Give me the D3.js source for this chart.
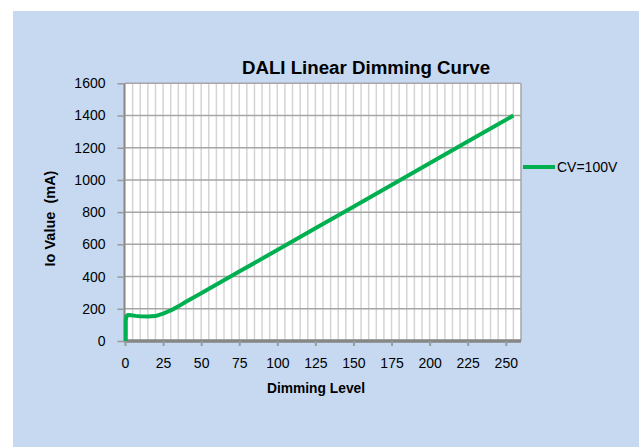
<!doctype html>
<html>
<head>
<meta charset="utf-8">
<script src="https://d3js.org/d3.v7.min.js"></script>
<style>
    body { margin: 0; background: #ffffff; }
    svg { display: block; font-family: "Liberation Sans", Arial, sans-serif; }
</style>
</head>
<body>
<svg id="chart" width="639" height="447"></svg>
<script>

    // dimming level vs output current
    var levels = [0.5, 0.5, 1, 2, 4, 7, 10, 15, 20, 25, 30, 35, 40, 50, 75, 100, 125, 150, 175, 200, 225, 255];
    var ioValues = [0, 130, 155, 162, 160, 156, 154, 152, 155, 170, 190, 215, 244, 296, 431, 565, 700, 834, 969, 1104, 1238, 1400];
    var xTicks = [0, 25, 50, 75, 100, 125, 150, 175, 200, 225, 250];
    var yTicks = [0, 200, 400, 600, 800, 1000, 1200, 1400, 1600];
    var seriesName = "CV=100V";

    var svg = d3.select("#chart");

    // chart area background
    svg.append("rect")
        .attr("x", 13).attr("y", 11)
        .attr("width", 639 - 13).attr("height", 447 - 11)
        .attr("fill", "#c6d9f1");

    var x = d3.scaleLinear().domain([0, 260]).range([125, 521]);
    var y = d3.scaleLinear().domain([0, 1600]).range([341, 83.3]);

    // plot area
    svg.append("rect")
        .attr("x", x(0)).attr("y", y(1600))
        .attr("width", x(260) - x(0)).attr("height", y(0) - y(1600))
        .attr("fill", "#ffffff");

    // minor vertical gridlines every 5
    svg.append("g")
        .selectAll("line")
        .data(d3.range(5, 261, 5))
        .enter().append("line")
        .attr("x1", function (d) { return x(d); })
        .attr("x2", function (d) { return x(d); })
        .attr("y1", y(0)).attr("y2", y(1600))
        .attr("stroke", function (d) { return d == 260 ? "#a6a6a6" : "#d4d4d4"; })
        .attr("stroke-width", 1.5);

    // horizontal gridlines
    svg.append("g")
        .selectAll("line")
        .data(yTicks.slice(1))
        .enter().append("line")
        .attr("x1", x(0)).attr("x2", x(260))
        .attr("y1", function (d) { return y(d); })
        .attr("y2", function (d) { return y(d); })
        .attr("stroke", "#a6a6a6")
        .attr("stroke-width", 1.5);

    // axes
    var xAxis = d3.axisBottom(x).tickValues(xTicks).tickSize(5).tickPadding(12).tickFormat(d3.format("d"));
    var yAxis = d3.axisLeft(y).tickValues(yTicks).tickSize(7).tickPadding(12).tickFormat(d3.format("d"));

    var gx = svg.append("g")
        .attr("transform", "translate(0," + y(0) + ")")
        .call(xAxis);
    gx.select(".domain").attr("stroke", "#868686").attr("stroke-width", 3.5).attr("d", "M" + (x(0) - 1) + ",0H" + x(260));
    gx.selectAll(".tick line").attr("stroke", "#9a9a9a").attr("stroke-width", 2);
    gx.selectAll(".tick text").attr("font-size", 14).attr("fill", "#000").attr("font-family", "Liberation Sans");

    var gy = svg.append("g")
        .attr("transform", "translate(" + (x(0) - 0.5) + ",0)")
        .call(yAxis);
    gy.select(".domain").attr("stroke", "#868686").attr("stroke-width", 2).attr("d", "M0," + y(0) + "V" + y(1600));
    gy.selectAll(".tick line").attr("stroke", "#9a9a9a").attr("stroke-width", 1.5);
    gy.selectAll(".tick text").attr("font-size", 14).attr("fill", "#000").attr("font-family", "Liberation Sans");

    // series
    var points = levels.map(function (d, i) { return [d, ioValues[i]]; });
    var line = d3.line()
        .x(function (d) { return x(d[0]); })
        .y(function (d) { return y(d[1]); })
        .curve(d3.curveLinear);

    svg.append("path")
        .datum(points)
        .attr("d", line)
        .attr("fill", "none")
        .attr("stroke", "#00b050")
        .attr("stroke-width", 4)
        .attr("stroke-linejoin", "round");

    // title
    svg.append("text")
        .attr("x", 366).attr("y", 74)
        .attr("text-anchor", "middle")
        .attr("font-size", 18.7)
        .attr("font-weight", "bold")
        .text("DALI Linear Dimming Curve");

    svg.append("text")
        .attr("x", 316).attr("y", 393)
        .attr("text-anchor", "middle")
        .attr("font-size", 13.8)
        .attr("font-weight", "bold")
        .text("Dimming Level");

    svg.append("text")
        .attr("transform", "translate(55,218.5) rotate(-90)")
        .attr("text-anchor", "middle")
        .attr("font-size", 14.5)
        .attr("font-weight", "bold")
        .style("white-space", "pre")
        .text("Io Value  (mA)");

    // legend
    svg.append("line")
        .attr("x1", 523).attr("x2", 555)
        .attr("y1", 167).attr("y2", 167)
        .attr("stroke", "#00b050")
        .attr("stroke-width", 4);

    svg.append("text")
        .attr("x", 557).attr("y", 172)
        .attr("font-size", 14)
        .text(seriesName);

</script>
</body>
</html>
